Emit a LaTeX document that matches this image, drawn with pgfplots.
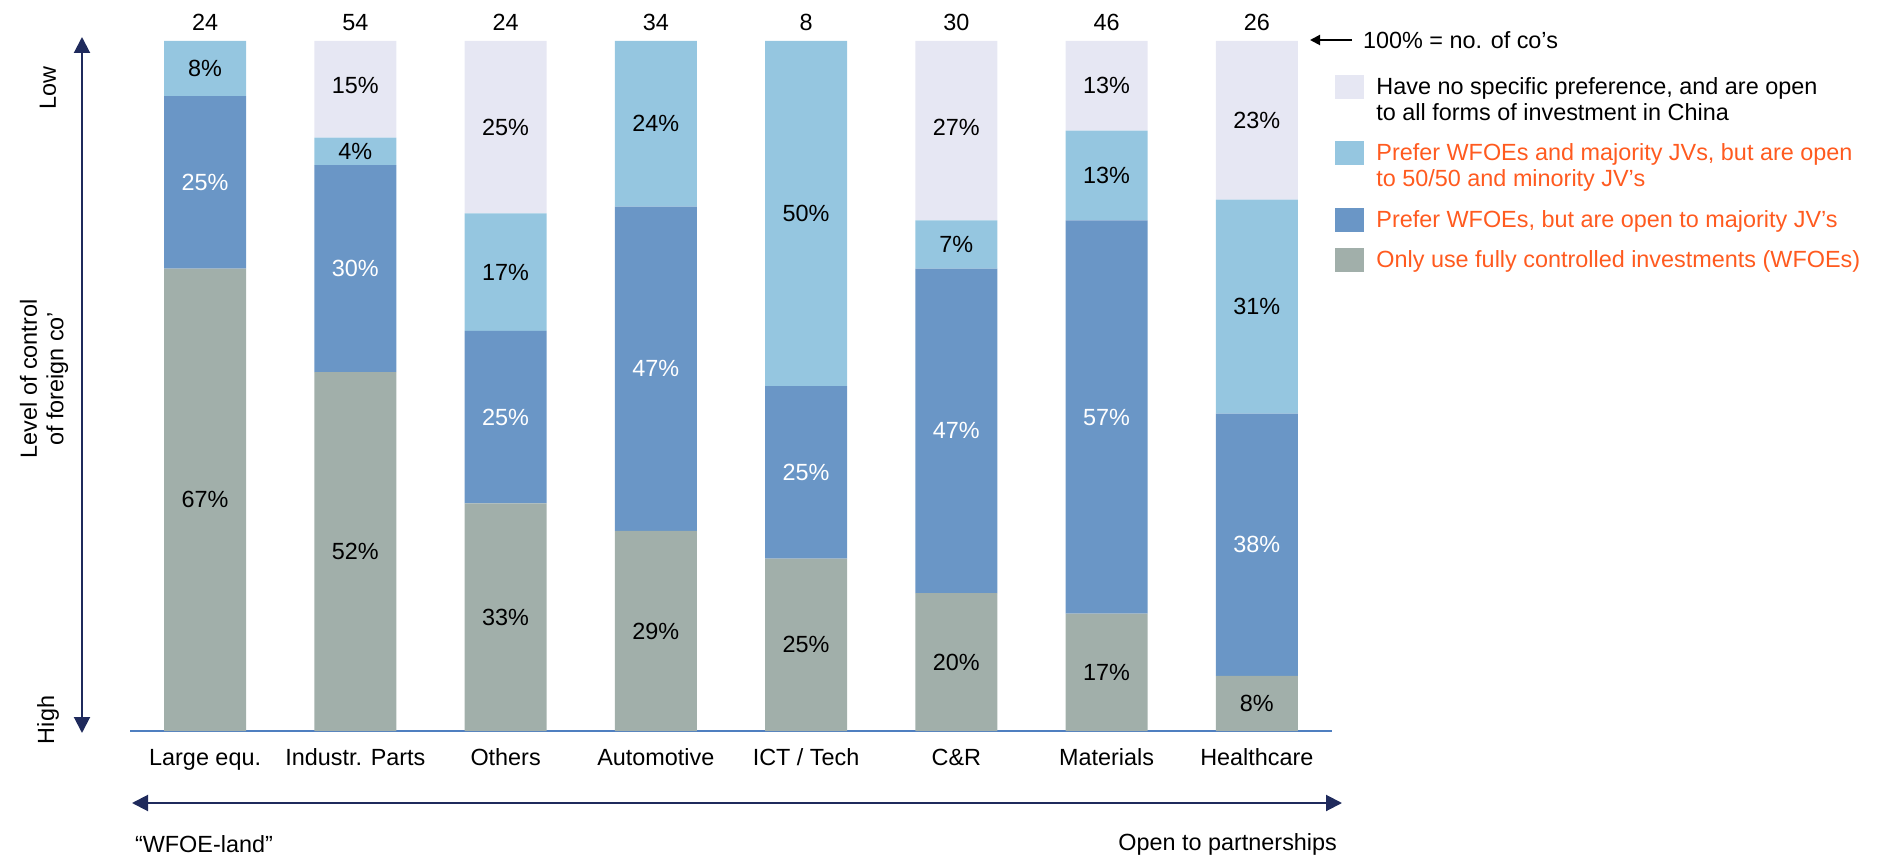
\documentclass[border=0pt]{standalone}
\usepackage{pgfplots}
\pgfplotsset{compat=1.18}
\usepackage{pgfplotstable}
\usepackage{fontspec}
\setmainfont{Liberation Sans}
\usetikzlibrary{arrows.meta}

\definecolor{wfoe}{HTML}{A1AFAA}
\definecolor{majjv}{HTML}{6A96C6}
\definecolor{openjv}{HTML}{95C6E0}
\definecolor{nopref}{HTML}{E6E7F3}
\definecolor{navy}{HTML}{1F2A5C}
\definecolor{axisblue}{HTML}{4F7FC0}
\definecolor{accent}{HTML}{FF5A1F}

% share of companies per preference, bottom to top of each bar
\pgfplotstableread{
x wfoe majjv openjv nopref
0 67 25 8 0
1 52 30 4 15
2 33 25 17 25
3 29 47 24 0
4 25 25 50 0
5 20 47 7 27
6 17 57 13 13
7 8 38 31 23
}\shares

\newcommand{\lbl}{\fontsize{11.7}{13.2}\selectfont}

\begin{document}
\begin{tikzpicture}[x=1pt,y=1pt]
\useasboundingbox (0,0) rectangle (942.5,429);
% rounded shares may add up to 101%: bars are cut at the 100% line (y = 408.5pt)
\begin{scope}
\clip (0,0) rectangle (942.5,408.6) (0,412.6) rectangle (942.5,429);
\begin{axis}[
  at={(65pt,63.5pt)}, anchor=south west,
  scale only axis, width=601pt, height=348.45pt,
  ybar stacked, bar width=41pt,
  xmin=-0.5, xmax=7.5, ymin=0, ymax=101,
  clip mode=individual,
  axis x line=bottom, axis y line=none,
  x axis line style={-, draw=axisblue, line width=0.9pt},
  xtick={0,...,7},
  xticklabels={Large equ., Industr. Parts, Others, Automotive, ICT / Tech, C\&R, Materials, Healthcare},
  major tick length=0pt,
  xticklabel style={font=\lbl, anchor=base, yshift=-17pt},
  /pgf/number format/assume math mode=true,
  visualization depends on={rawy \as \rawy},
  nodes near coords={\ifdim\rawy pt>0.5pt\pgfmathprintnumber[fixed,precision=0]{\rawy}\%\fi},
  every node near coord/.append style={anchor=center, font=\lbl},
]
\addplot[fill=wfoe, draw=none, every node near coord/.append style={text=black}] table[x=x, y=wfoe]{\shares};
\addplot[fill=majjv, draw=none, every node near coord/.append style={text=white}] table[x=x, y=majjv]{\shares};
\addplot[fill=openjv, draw=none, every node near coord/.append style={text=black}] table[x=x, y=openjv]{\shares};
\addplot[fill=nopref, draw=none, every node near coord/.append style={text=black}] table[x=x, y=nopref]{\shares};

% number of companies per sector (= 100%)
\node[font=\lbl, anchor=base, yshift=5pt] at (axis cs:0,100) {24};
\node[font=\lbl, anchor=base, yshift=5pt] at (axis cs:1,100) {54};
\node[font=\lbl, anchor=base, yshift=5pt] at (axis cs:2,100) {24};
\node[font=\lbl, anchor=base, yshift=5pt] at (axis cs:3,100) {34};
\node[font=\lbl, anchor=base, yshift=5pt] at (axis cs:4,100) {8};
\node[font=\lbl, anchor=base, yshift=5pt] at (axis cs:5,100) {30};
\node[font=\lbl, anchor=base, yshift=5pt] at (axis cs:6,100) {46};
\node[font=\lbl, anchor=base, yshift=5pt] at (axis cs:7,100) {26};
\end{axis}
\end{scope}

% control scale on the left
\draw[navy, line width=1pt, {Triangle[length=8pt,width=8pt]}-{Triangle[length=8pt,width=8pt]}] (41,62.5) -- (41,410.5);
\node[font=\lbl, rotate=90] at (24,385) {Low};
\node[font=\lbl, rotate=90] at (24,69) {High};
\node[font=\lbl, rotate=90, align=center] at (22,239.5) {Level of control\\of foreign co’};

% partnership scale below
\draw[navy, line width=1pt, {Triangle[length=8pt,width=8pt]}-{Triangle[length=8pt,width=8pt]}] (66,27.5) -- (671,27.5);
\node[font=\lbl, anchor=west] at (64,7) {“WFOE-land”};
\node[font=\lbl, anchor=east] at (672,7) {Open to partnerships};

% legend
\draw[black, line width=1pt, -{Triangle[length=5pt,width=5pt]}] (676,409) -- (655,409);
\node[font=\lbl, anchor=west] at (678,409) {100\% = no. of co’s};
\fill[nopref] (667.5,391.5) rectangle +(14.5,-12);
\node[font=\lbl, anchor=base west, inner sep=0pt] at (688,381.7) {Have no specific preference, and are open};
\node[font=\lbl, anchor=base west, inner sep=0pt] at (688,368.5) {to all forms of investment in China};
\fill[openjv] (667.5,358.4) rectangle +(14.5,-12);
\node[font=\lbl, text=accent, anchor=base west, inner sep=0pt] at (688,348.6) {Prefer WFOEs and majority JVs, but are open};
\node[font=\lbl, text=accent, anchor=base west, inner sep=0pt] at (688,335.5) {to 50/50 and minority JV’s};
\fill[majjv] (667.5,324.8) rectangle +(14.5,-12);
\node[font=\lbl, text=accent, anchor=base west, inner sep=0pt] at (688,315) {Prefer WFOEs, but are open to majority JV’s};
\fill[wfoe] (667.5,304.8) rectangle +(14.5,-12);
\node[font=\lbl, text=accent, anchor=base west, inner sep=0pt] at (688,295) {Only use fully controlled investments (WFOEs)};
\end{tikzpicture}
\end{document}
